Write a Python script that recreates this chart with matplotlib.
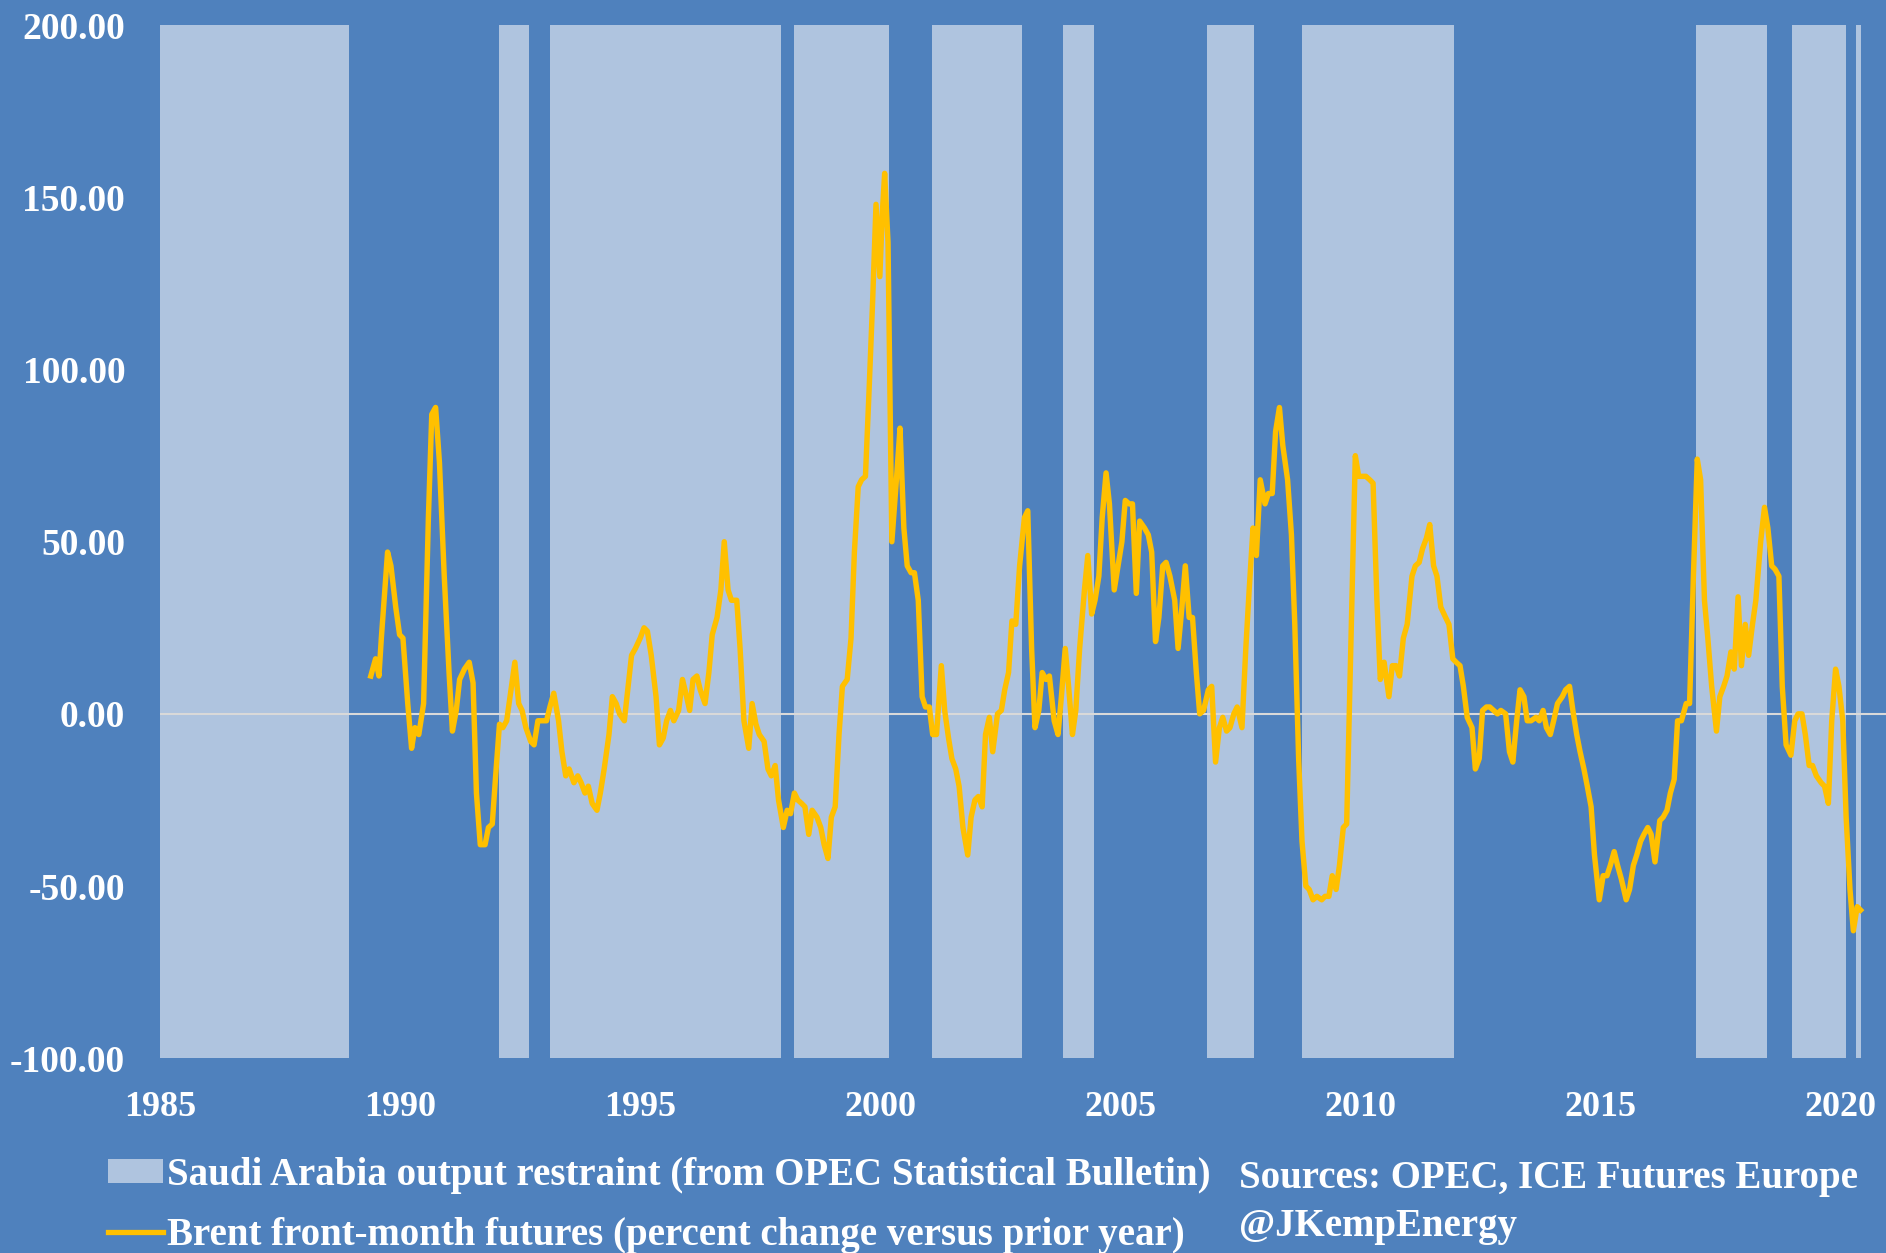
import matplotlib
matplotlib.use("Agg")
from matplotlib import pyplot as plt
from matplotlib.patches import Patch
from matplotlib.lines import Line2D

# Saudi Arabia output restraint periods (decimal years)
restraint_start = [1985.0, 1992.07, 1993.12, 1998.21, 2001.07, 2003.80, 2006.80, 2008.78, 2016.98, 2018.99, 2020.31]
restraint_end = [1988.93, 1992.69, 1997.93, 2000.18, 2002.94, 2004.45, 2007.78, 2011.94, 2018.46, 2020.11, 2020.41]

# Brent front-month futures, % change vs prior year
brent_t = [
    1989.39, 1989.49, 1989.56, 1989.61, 1989.74, 1989.81, 1989.91, 1989.99, 1990.06, 1990.16,
    1990.24, 1990.31, 1990.39, 1990.49, 1990.59, 1990.66, 1990.74, 1990.82, 1990.92, 1991.02,
    1991.09, 1991.17, 1991.24, 1991.34, 1991.44, 1991.52, 1991.59, 1991.67, 1991.77, 1991.84,
    1991.92, 1991.99, 1992.07, 1992.14, 1992.22, 1992.29, 1992.39, 1992.47, 1992.54, 1992.62,
    1992.72, 1992.79, 1992.87, 1992.94, 1993.05, 1993.12, 1993.20, 1993.30, 1993.37, 1993.45,
    1993.52, 1993.62, 1993.70, 1993.77, 1993.85, 1993.92, 1994.00, 1994.10, 1994.17, 1994.25,
    1994.35, 1994.42, 1994.50, 1994.57, 1994.67, 1994.75, 1994.82, 1994.90, 1995.00, 1995.08,
    1995.15, 1995.23, 1995.33, 1995.40, 1995.48, 1995.55, 1995.63, 1995.70, 1995.80, 1995.88,
    1995.95, 1996.03, 1996.10, 1996.18, 1996.25, 1996.35, 1996.43, 1996.50, 1996.60, 1996.68,
    1996.75, 1996.83, 1996.90, 1997.01, 1997.08, 1997.16, 1997.26, 1997.33, 1997.41, 1997.48,
    1997.58, 1997.66, 1997.73, 1997.81, 1997.88, 1997.98, 1998.06, 1998.13, 1998.21, 1998.28,
    1998.36, 1998.43, 1998.51, 1998.58, 1998.68, 1998.76, 1998.83, 1998.91, 1998.98, 1999.06,
    1999.14, 1999.21, 1999.31, 1999.39, 1999.46, 1999.54, 1999.61, 1999.69, 1999.76, 1999.84,
    1999.91, 1999.99, 2000.04, 2000.09, 2000.16, 2000.24, 2000.34, 2000.41, 2000.49, 2000.56,
    2000.64, 2000.71, 2000.79, 2000.87, 2000.94, 2001.02, 2001.09, 2001.17, 2001.27, 2001.34,
    2001.42, 2001.49, 2001.57, 2001.64, 2001.72, 2001.82, 2001.89, 2001.97, 2002.04, 2002.12,
    2002.19, 2002.27, 2002.34, 2002.44, 2002.52, 2002.59, 2002.67, 2002.74, 2002.82, 2002.90,
    2003.00, 2003.07, 2003.15, 2003.22, 2003.30, 2003.37, 2003.45, 2003.52, 2003.62, 2003.70,
    2003.77, 2003.85, 2003.92, 2004.00, 2004.07, 2004.15, 2004.25, 2004.32, 2004.40, 2004.47,
    2004.55, 2004.62, 2004.70, 2004.77, 2004.87, 2004.95, 2005.03, 2005.10, 2005.18, 2005.25,
    2005.33, 2005.40, 2005.50, 2005.58, 2005.65, 2005.73, 2005.80, 2005.88, 2005.95, 2006.03,
    2006.13, 2006.20, 2006.28, 2006.35, 2006.43, 2006.50, 2006.58, 2006.65, 2006.73, 2006.83,
    2006.90, 2006.98, 2007.06, 2007.13, 2007.21, 2007.28, 2007.36, 2007.43, 2007.53, 2007.61,
    2007.68, 2007.76, 2007.83, 2007.91, 2008.01, 2008.08, 2008.16, 2008.23, 2008.31, 2008.38,
    2008.48, 2008.56, 2008.63, 2008.71, 2008.78, 2008.86, 2008.93, 2009.01, 2009.09, 2009.19,
    2009.26, 2009.34, 2009.41, 2009.49, 2009.56, 2009.64, 2009.71, 2009.79, 2009.89, 2009.96,
    2010.04, 2010.11, 2010.19, 2010.26, 2010.34, 2010.41, 2010.49, 2010.59, 2010.66, 2010.74,
    2010.81, 2010.89, 2010.97, 2011.07, 2011.14, 2011.22, 2011.29, 2011.37, 2011.44, 2011.52,
    2011.59, 2011.67, 2011.77, 2011.84, 2011.92, 2011.99, 2012.07, 2012.14, 2012.22, 2012.32,
    2012.39, 2012.47, 2012.54, 2012.62, 2012.69, 2012.77, 2012.85, 2012.92, 2013.02, 2013.10,
    2013.17, 2013.25, 2013.32, 2013.40, 2013.47, 2013.55, 2013.65, 2013.72, 2013.80, 2013.87,
    2013.95, 2014.02, 2014.10, 2014.20, 2014.27, 2014.35, 2014.42, 2014.50, 2014.57, 2014.65,
    2014.72, 2014.80, 2014.87, 2014.97, 2015.05, 2015.13, 2015.20, 2015.28, 2015.35, 2015.43,
    2015.53, 2015.60, 2015.68, 2015.75, 2015.83, 2015.90, 2015.98, 2016.05, 2016.13, 2016.23,
    2016.30, 2016.38, 2016.45, 2016.53, 2016.60, 2016.68, 2016.78, 2016.85, 2016.93, 2017.01,
    2017.08, 2017.16, 2017.23, 2017.31, 2017.41, 2017.48, 2017.56, 2017.63, 2017.71, 2017.78,
    2017.86, 2017.93, 2018.01, 2018.08, 2018.16, 2018.23, 2018.33, 2018.41, 2018.48, 2018.56,
    2018.63, 2018.71, 2018.78, 2018.86, 2018.96, 2019.04, 2019.11, 2019.19, 2019.26, 2019.34,
    2019.41, 2019.49, 2019.59, 2019.66, 2019.74, 2019.81, 2019.89, 2019.96, 2020.04, 2020.11,
    2020.19, 2020.26, 2020.34, 2020.41,
]
brent_yoy = [
    11, 16, 11, 22, 47, 43, 31, 23, 22, 3,
    -10, -4, -6, 3, 57, 87, 89, 73, 40, 12,
    -5, 1, 10, 13, 15, 9, -23, -38, -38, -33,
    -32, -18, -3, -4, -2, 5, 15, 3, 1, -4,
    -8, -9, -2, -2, -2, 2, 6, -2, -11, -18,
    -16, -20, -18, -20, -23, -21, -26, -28, -23, -16,
    -6, 5, 3, 0, -2, 8, 17, 19, 22, 25,
    24, 17, 5, -9, -7, -2, 1, -2, 1, 10,
    6, 1, 10, 11, 7, 3, 12, 23, 28, 36,
    50, 36, 33, 33, 19, -2, -10, 3, -3, -6,
    -8, -16, -18, -15, -25, -33, -28, -29, -23, -25,
    -26, -27, -35, -28, -30, -33, -38, -42, -30, -27,
    -6, 8, 10, 22, 47, 66, 68, 69, 92, 120,
    148, 127, 145, 157, 137, 50, 69, 83, 54, 43,
    41, 41, 33, 5, 2, 2, -6, -6, 14, 1,
    -7, -13, -16, -21, -33, -41, -30, -25, -24, -27,
    -6, -1, -11, 0, 1, 7, 12, 27, 26, 43,
    57, 59, 19, -4, 1, 12, 10, 11, -2, -6,
    5, 19, 8, -6, 1, 19, 36, 46, 29, 33,
    40, 57, 70, 61, 36, 43, 50, 62, 61, 61,
    35, 56, 54, 52, 47, 21, 28, 43, 44, 40,
    33, 19, 31, 43, 28, 28, 12, 0, 1, 7,
    8, -14, -4, -1, -5, -4, 0, 2, -4, 19,
    36, 54, 46, 68, 61, 64, 64, 82, 89, 78,
    68, 52, 26, -13, -37, -50, -51, -54, -53, -54,
    -53, -53, -47, -51, -44, -33, -32, 15, 75, 69,
    69, 69, 68, 67, 33, 10, 15, 5, 14, 14,
    11, 22, 26, 40, 43, 44, 48, 51, 55, 43,
    40, 31, 28, 26, 16, 15, 14, 8, -1, -4,
    -16, -13, 1, 2, 2, 1, 0, 1, 0, -11,
    -14, -2, 7, 5, -2, -2, -1, -2, 1, -4,
    -6, -2, 3, 5, 7, 8, 1, -6, -11, -16,
    -21, -27, -41, -54, -47, -47, -44, -40, -44, -48,
    -54, -51, -44, -41, -37, -35, -33, -35, -43, -31,
    -30, -28, -23, -19, -2, -2, 3, 3, 40, 74,
    68, 33, 22, 8, -5, 5, 8, 11, 18, 13,
    34, 14, 26, 17, 26, 33, 50, 60, 54, 43,
    42, 40, 8, -9, -12, -2, 0, 0, -6, -15,
    -15, -18, -20, -21, -26, -2, 13, 8, -2, -30,
    -51, -63, -56, -57,
]

years = [1985, 1990, 1995, 2000, 2005, 2010, 2015, 2020]
yticks = [-100, -50, 0, 50, 100, 150, 200]

bg = "#4F81BD"
shade = "#AFC4DF"
gold = "#FFC000"

plt.rcParams["font.family"] = ["Liberation Serif", "DejaVu Serif"]

fig = plt.figure(figsize=(18.86, 12.53), dpi=100, facecolor=bg)
ax = fig.add_axes([0.0848, 0.1555, 0.9152, 0.8243])
ax.set_facecolor(bg)

for s, e in zip(restraint_start, restraint_end):
    ax.axvspan(s, e, ymin=0, ymax=1, color=shade, lw=0, zorder=1)

ax.axhline(0, color="#D9D9D9", lw=1.5, zorder=2)
ax.plot(brent_t, brent_yoy, color=gold, lw=3.9, zorder=3)

ax.set_xlim(1985, 2020.94)
ax.set_ylim(-100, 200)
ax.set_xticks(years)
ax.set_xticklabels([str(y) for y in years])
ax.set_yticks(yticks)
ax.set_yticklabels([f"{v:.2f}" for v in yticks])
ax.tick_params(axis="y", length=0, colors="white", labelsize=27, pad=25)
ax.tick_params(axis="x", length=0, colors="white", labelsize=26, pad=24)
for lab in ax.get_xticklabels() + ax.get_yticklabels():
    lab.set_fontweight("bold")
for sp in ax.spines.values():
    sp.set_visible(False)

handles = [Patch(facecolor=shade, edgecolor="none"),
           Line2D([0], [0], color=gold, lw=3.8)]
labels = ["Saudi Arabia output restraint (from OPEC Statistical Bulletin)",
          "Brent front-month futures (percent change versus prior year)"]
fig.legend(handles, labels, loc="center left", bbox_to_anchor=(0.057, 0.038),
           frameon=False, prop={"size": 28, "weight": "bold"}, labelcolor="white",
           handlelength=1.42, handleheight=0.55, handletextpad=0.1,
           labelspacing=0.6, borderpad=0, borderaxespad=0)

fig.text(0.657, 0.0595, "Sources: OPEC, ICE Futures Europe", color="white",
         fontsize=28, fontweight="bold", va="center", ha="left")
fig.text(0.657, 0.0211, "@JKempEnergy", color="white",
         fontsize=28, fontweight="bold", va="center", ha="left")

plt.savefig("out.png", dpi=100, facecolor=bg)
